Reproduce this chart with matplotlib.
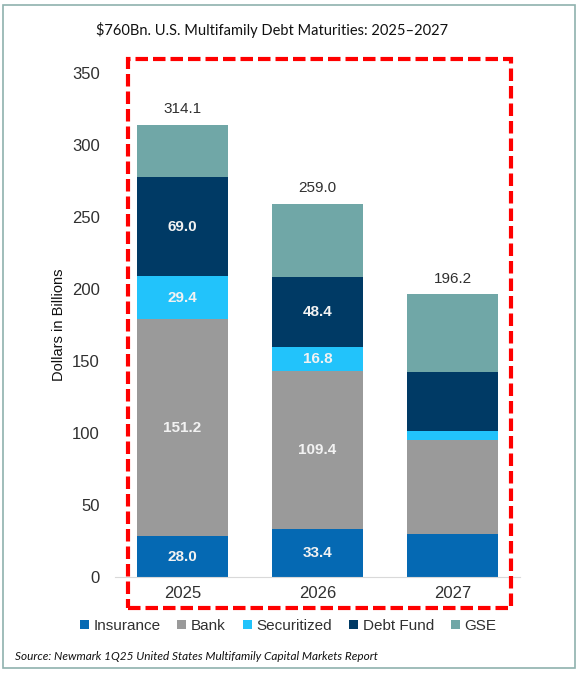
import numpy as np
import matplotlib.pyplot as plt
from matplotlib.patches import Rectangle

years = ["2025", "2026", "2027"]
totals = [314.1, 259.0, 196.2]

# stacked segments, bottom to top
lenders = ["Insurance", "Bank", "Securitized", "Debt Fund", "GSE"]
insurance = [28.0, 33.4, 29.7]
bank = [151.2, 109.4, 65.6]
securitized = [29.4, 16.8, 6.1]
debt_fund = [69.0, 48.4, 40.8]
gse = [36.5, 51.0, 54.0]

# labels shown inside the segments (None = no label)
seg_labels = {
    "Insurance": ["28.0", "33.4", None],
    "Bank": ["151.2", "109.4", None],
    "Securitized": ["29.4", "16.8", None],
    "Debt Fund": ["69.0", "48.4", None],
    "GSE": [None, None, None],
}

colors = ["#0569b3", "#9a9a9a", "#22c3fb", "#003a65", "#70a7a7"]

fig = plt.figure(figsize=(5.8, 6.74), dpi=100)
ax = fig.add_axes([115 / 580, 97.3 / 674, 405 / 580, 503.7 / 674])

x = np.arange(len(years))
bottom = np.zeros(len(years))
series = [insurance, bank, securitized, debt_fund, gse]
for name, vals, c in zip(lenders, series, colors):
    vals = np.array(vals)
    ax.bar(x, vals, 0.674, bottom=bottom, color=c, label=name, linewidth=0)
    for i, lab in enumerate(seg_labels[name]):
        if lab:
            ax.text(x[i], bottom[i] + vals[i] / 2, lab, ha="center", va="center",
                    color="#f2f2f2", fontsize=11, fontweight="bold",
                    family="Liberation Sans")
    bottom += vals

for i, t in enumerate(totals):
    ax.text(x[i], t + 6, f"{t:.1f}", ha="center", va="bottom", color="#303030",
            fontsize=11, family="Liberation Sans")

ax.set_xlim(-0.5, 2.5)
ax.set_ylim(0, 350)
ax.set_yticks(range(0, 351, 50))
ax.set_xticks(x)
ax.set_xticklabels(years)
for s in ["top", "right", "left"]:
    ax.spines[s].set_visible(False)
ax.spines["bottom"].set_color("#d9d9d9")
ax.tick_params(axis="both", length=0, labelsize=12, colors="#303030")
ax.tick_params(axis="y", pad=11)
ax.tick_params(axis="x", pad=7)
for lab in ax.get_xticklabels() + ax.get_yticklabels():
    lab.set_family("Liberation Sans")
ax.set_ylabel("Dollars in Billions", fontsize=10.5, family="Liberation Sans",
              color="#101010")
ax.yaxis.set_label_coords(-49 / 405, 0.5)

leg = fig.legend(loc="center", bbox_to_anchor=(288 / 580, 1 - 626 / 674), ncol=5,
                 frameon=False, handlelength=0.6, handleheight=0.6,
                 handletextpad=0.3, columnspacing=1.1,
                 prop={"family": "Liberation Sans", "size": 11})
for t in leg.get_texts():
    t.set_color("#303030")

fig.text(272 / 580, 1 - 30 / 674, "$760Bn. U.S. Multifamily Debt Maturities: 2025\u20132027",
         ha="center", va="center", fontsize=10.5, family="Lato", color="#111111")
fig.text(15 / 580, 1 - 657 / 674,
         "Source: Newmark 1Q25 United States Multifamily Capital Markets Report",
         ha="left", va="center", fontsize=8.5, family="Lato", style="italic",
         color="#111111")

# red dashed highlight box and outer frame
fig.patches.append(Rectangle((128 / 580, 1 - 608 / 674), 383 / 580, 549 / 674,
                             transform=fig.transFigure, fill=False,
                             edgecolor="#ff0000", linewidth=3,
                             linestyle=(0, (3, 1.2)), zorder=5))
fig.patches.append(Rectangle((3 / 580, 1 - 668 / 674), 572 / 580, 663 / 674,
                             transform=fig.transFigure, fill=False,
                             edgecolor="#8fb2ae", linewidth=1.2, zorder=5))

fig.savefig("out.png", dpi=100)
